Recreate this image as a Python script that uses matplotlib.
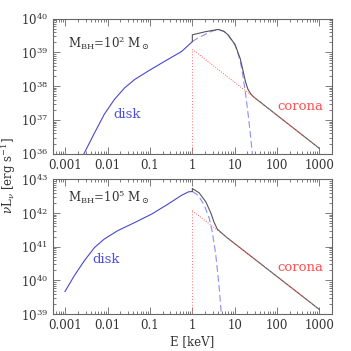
import numpy as np
import matplotlib
matplotlib.use("Agg")
import matplotlib.pyplot as plt
from matplotlib.ticker import LogLocator, FixedLocator, FixedFormatter, NullFormatter

plt.rcParams['font.family'] = ['DejaVu Serif']
plt.rcParams['mathtext.fontset'] = 'dejavuserif'

# values, as log10(E/keV) and log10(nuL_nu)
# M_BH = 1e2
disk1_logE = [-2.62, -2.55, -2.31, -2.08, -1.84, -1.60, -1.36, -1.04, -0.65, -0.25, 0.0,
              0.15, 0.30, 0.45, 0.61, 0.75, 0.85, 1.01, 1.07, 1.13, 1.19, 1.25, 1.31, 1.36, 1.41, 1.44]
disk1_logL = [35.85, 36.03, 36.62, 37.17, 37.61, 37.95, 38.20, 38.45, 38.74, 39.03, 39.32,
              39.44, 39.53, 39.62, 39.68, 39.62, 39.50, 39.21, 39.00, 38.75, 38.35, 37.85, 37.25, 36.70, 36.11, 35.70]
tot1_logE = [0.0, 0.0, 0.30, 0.61, 0.75, 0.85, 1.01, 1.13, 1.19, 1.25, 1.31, 1.38, 1.45, 3.0]
tot1_logL = [39.32, 39.52, 39.61, 39.68, 39.62, 39.51, 39.23, 38.82, 38.50, 38.16, 37.92, 37.77, 37.68, 36.16]
cor1_logE = [0.0, 3.0]
cor1_logL = [39.09, 36.16]

# M_BH = 1e5
disk2_logE = [-3.01, -2.79, -2.55, -2.31, -2.08, -1.76, -1.36, -0.96, -0.57, -0.25, -0.09, 0.0,
              0.10, 0.16, 0.28, 0.40, 0.47, 0.55, 0.63, 0.68, 0.70]
disk2_logL = [39.67, 40.14, 40.59, 40.98, 41.23, 41.48, 41.72, 41.97, 42.27, 42.53, 42.63, 42.64,
              42.56, 42.48, 42.24, 41.84, 41.45, 40.80, 39.85, 39.07, 38.80]
tot2_logE = [0.0, 0.0, 0.16, 0.32, 0.44, 0.51, 0.59, 0.70, 0.80, 3.0]
tot2_logL = [42.64, 42.73, 42.60, 42.33, 41.99, 41.74, 41.52, 41.40, 41.29, 39.14]
cor2_logE = [0.0, 3.0]
cor2_logL = [42.07, 39.14]

xticks = [0.001, 0.01, 0.1, 1, 10, 100, 1000]
xticklabels = ['0.001', '0.01', '0.1', '1', '10', '100', '1000']

panels = [
    dict(disk=(disk1_logE, disk1_logL), tot=(tot1_logE, tot1_logL), cor=(cor1_logE, cor1_logL),
         ylim=(36, 40), exp='2', m_y=0.819, disk_xy=(0.216, 0.287), cor_xy=(0.885, 0.346)),
    dict(disk=(disk2_logE, disk2_logL), tot=(tot2_logE, tot2_logL), cor=(cor2_logE, cor2_logL),
         ylim=(39, 43), exp='5', m_y=0.872, disk_xy=(0.141, 0.408), cor_xy=(0.885, 0.349)),
]

fig = plt.figure(figsize=(3.51, 3.51), dpi=100)
boxes = [[0.150, 0.562, 0.796, 0.385], [0.150, 0.105, 0.796, 0.384]]
txt = '#333333'
edge = '#666666'

for box, p in zip(boxes, panels):
    ax = fig.add_axes(box)
    dE = 10.0**np.array(p['disk'][0]); dL = 10.0**np.array(p['disk'][1])
    tE = 10.0**np.array(p['tot'][0]); tL = 10.0**np.array(p['tot'][1])
    cE = 10.0**np.array(p['cor'][0]); cL = 10.0**np.array(p['cor'][1])
    ymin = 10.0**p['ylim'][0]; ymax = 10.0**p['ylim'][1]
    lo = dE <= 1
    hi = dE >= 1
    ax.plot(dE[lo], dL[lo], color='#4848d0', lw=0.8)
    ax.plot(dE[hi], dL[hi], color='#8c8cff', lw=0.8, ls=(0, (6, 3)))
    ax.plot(tE, tL, color='#555555', lw=0.8)
    ax.plot([1, 1], [ymin, cL[0]], color='#ff7070', lw=0.7, ls=(0, (1, 2)))
    ax.plot(cE, cL, color='#ff6060', lw=0.7, ls=(0, (1, 1.5)))
    ax.set_xscale('log'); ax.set_yscale('log')
    ax.set_xlim(5e-4, 2e3)
    ax.set_ylim(ymin, ymax)
    ax.xaxis.set_major_locator(FixedLocator(xticks))
    ax.xaxis.set_major_formatter(FixedFormatter(xticklabels))
    ax.xaxis.set_minor_locator(LogLocator(base=10, subs=np.arange(2, 10), numticks=20))
    ax.xaxis.set_minor_formatter(NullFormatter())
    ax.yaxis.set_minor_locator(LogLocator(base=10, subs=np.arange(2, 10), numticks=20))
    ax.yaxis.set_minor_formatter(NullFormatter())
    ax.tick_params(which='both', direction='in', top=True, right=True, colors=edge,
                   labelcolor=txt, labelsize=8.5, width=0.6)
    ax.tick_params(which='major', length=5)
    ax.tick_params(which='minor', length=2.5)
    for s in ax.spines.values():
        s.set_color(edge); s.set_linewidth(0.8)
    ax.text(0.055, p['m_y'], r'M$_{\rm BH}$=10$^{%s}$ M$_\odot$' % p['exp'], transform=ax.transAxes,
            color=txt, fontsize=8.5, va='center')
    ax.text(p['disk_xy'][0], p['disk_xy'][1], 'disk', transform=ax.transAxes, color='#5050e0',
            fontsize=9.5, va='center')
    ax.text(p['cor_xy'][0], p['cor_xy'][1], 'corona', transform=ax.transAxes, color='#ff5050',
            fontsize=9.5, ha='center', va='center')
    if p['exp'] == '5':
        ax.set_xlabel('E [keV]', color=txt, fontsize=8.5, labelpad=2)

fig.text(0.025, 0.5, r'$\nu$L$_\nu$ [erg s$^{-1}$]', rotation=90, va='center', ha='center',
         color=txt, fontsize=8.5)

fig.savefig('out.png', dpi=100)
